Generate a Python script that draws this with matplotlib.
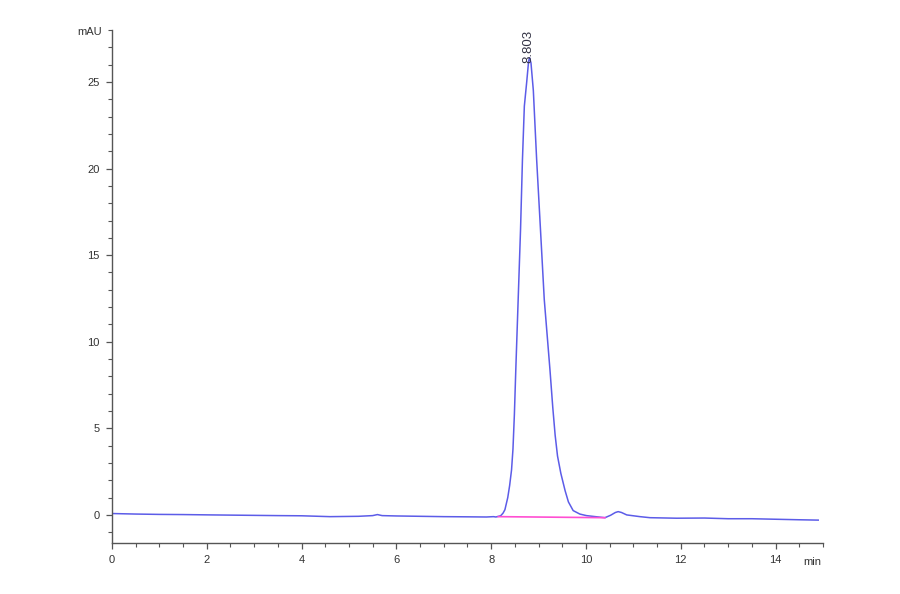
import matplotlib
matplotlib.use("Agg")
import matplotlib.pyplot as plt
from matplotlib.ticker import MultipleLocator
import numpy as np

# Chromatogram trace (min, mAU)
time_min = [0.0, 0.5, 1.0, 1.5, 2.1, 2.8, 3.5, 4.0, 4.6, 5.2, 5.5, 5.6, 5.7,
            6.0, 6.5, 7.0, 7.5, 7.9, 8.05, 8.1, 8.2, 8.25, 8.29, 8.35, 8.39,
            8.43, 8.46, 8.49, 8.52, 8.57, 8.62, 8.66, 8.70, 8.75, 8.79, 8.81,
            8.84, 8.89, 8.93, 8.96, 9.04, 9.12, 9.24, 9.30, 9.35, 9.40, 9.47,
            9.56, 9.63, 9.73, 9.87, 10.01, 10.2, 10.4, 10.52, 10.62, 10.68,
            10.75, 10.86, 11.14, 11.35, 11.91, 12.5, 13.0, 13.5, 14.0, 14.5,
            14.9]
signal_mau = [0.08, 0.05, 0.03, 0.02, 0.0, -0.02, -0.04, -0.05, -0.1, -0.08,
              -0.04, 0.02, -0.04, -0.06, -0.08, -0.1, -0.11, -0.12, -0.1, -0.12,
              -0.05, 0.1, 0.3, 1.0, 1.7, 2.6, 3.8, 5.8, 8.4, 12.45, 16.5, 20.5,
              23.6, 25.0, 26.2, 26.4, 26.1, 24.5, 22.2, 20.5, 16.5, 12.45, 8.4,
              6.2, 4.6, 3.4, 2.4, 1.4, 0.75, 0.25, 0.05, -0.04, -0.1, -0.16,
              -0.02, 0.14, 0.19, 0.14, 0.0, -0.1, -0.16, -0.19, -0.18, -0.22,
              -0.22, -0.25, -0.28, -0.3]

# integration baseline under the main peak
base_time = [8.15, 10.4]
base_mau = [-0.1, -0.16]

peak_label = "8.803"

plt.rcParams['font.family'] = ['Liberation Sans', 'DejaVu Sans']

fig = plt.figure(figsize=(9, 5.94), dpi=100)
ax = fig.add_axes([0.1244, 0.0859, 0.79, 0.8636])

ax.plot(time_min, signal_mau, color="#5c5ce8", lw=1.1)
ax.plot(base_time, base_mau, color="#ff4fd2", lw=1.2)

# retention time label at apex
i_top = int(np.argmax(signal_mau))
ax.text(time_min[i_top] - 0.03, signal_mau[i_top] - 0.3, peak_label, rotation=90,
        ha="center", va="bottom", fontsize=9.5, color="#333344")

ax.set_xlim(0, 15)
ax.set_ylim(-1.62, 28.0)
ax.xaxis.set_major_locator(MultipleLocator(2))
ax.xaxis.set_minor_locator(MultipleLocator(0.5))
ax.yaxis.set_major_locator(MultipleLocator(5))
ax.yaxis.set_minor_locator(MultipleLocator(1))
ax.set_xticks(np.arange(0, 15, 2))

for s in ["top", "right"]:
    ax.spines[s].set_visible(False)
for s in ["left", "bottom"]:
    ax.spines[s].set_color("#555555")
    ax.spines[s].set_linewidth(1.0)

ax.tick_params(which="both", direction="out", colors="#555555", labelcolor="#333333",
               labelsize=8)
ax.tick_params(which="major", length=4, width=0.9, pad=5)
ax.tick_params(which="minor", length=3, width=0.8)

ax.annotate("mAU", xy=(0, 27.9), xycoords=("axes fraction", "data"),
            xytext=(-7, 0), textcoords="offset points", ha="right", va="center",
            fontsize=8, color="#333333")
ax.annotate("min", xy=(0.985, 0), xycoords="axes fraction",
            xytext=(0, -13.7), textcoords="offset points", ha="center", va="center",
            fontsize=8, color="#333333")

fig.savefig("out.png", dpi=100)
